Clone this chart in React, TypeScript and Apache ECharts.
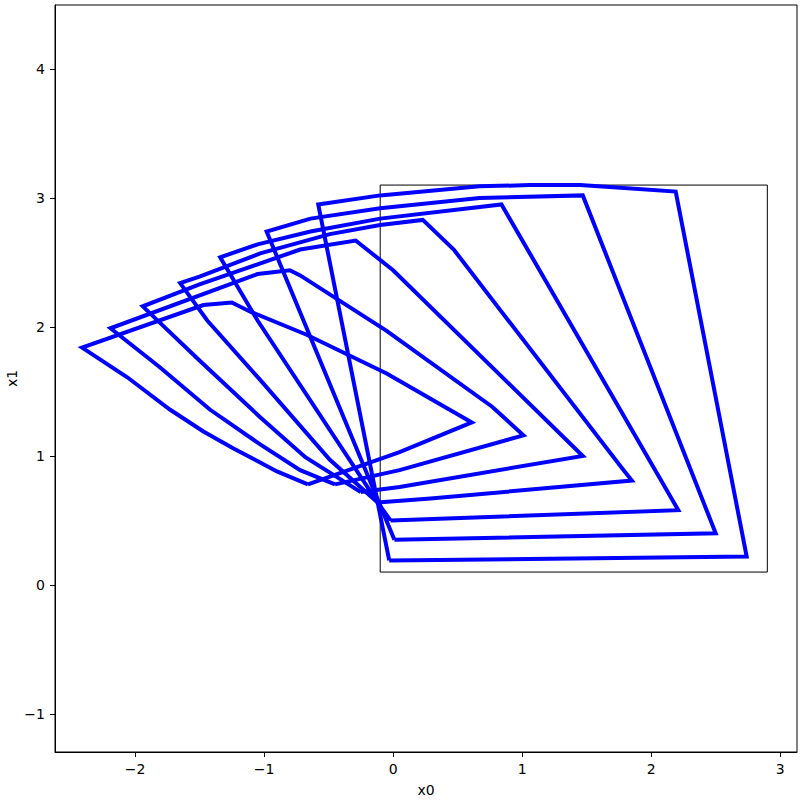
import React, { useEffect, useRef } from "react";
import * as echarts from "echarts";

// Axis tick values
const xTicks = [-2, -1, 0, 1, 2, 3];
const yTicks = [-1, 0, 1, 2, 3, 4];

// Axis extents
const xRange = [-2.62, 3.13];
const yRange = [-1.295, 4.496];

// Initial box corners
const boxCorners: [number, number][] = [
  [-0.1, 0.1],
  [2.9, 0.1],
  [2.9, 3.1],
  [-0.1, 3.1],
];

// Reachable set polygons (x0, x1), one per step
const poly1: [number, number][] = [
  [-0.03, 0.19], [2.74, 0.22], [2.19, 3.05], [1.45, 3.1], [1.06, 3.1],
  [0.67, 3.09], [-0.1, 3.02], [-0.58, 2.95],
];
const poly2: [number, number][] = [
  [0.01, 0.35], [2.5, 0.4], [1.47, 3.02], [0.67, 3.0], [-0.1, 2.92],
  [-0.64, 2.84], [-0.98, 2.74],
];
const poly3: [number, number][] = [
  [-0.02, 0.5], [2.21, 0.58], [0.84, 2.95], [-0.1, 2.84], [-0.64, 2.74],
  [-1.05, 2.64], [-1.34, 2.54], [-1.05, 2.05], [-0.12, 0.64],
];
const poly4: [number, number][] = [
  [-0.12, 0.64], [0.29, 0.67], [1.85, 0.81], [1.77, 0.91], [0.47, 2.6],
  [0.23, 2.83], [-0.1, 2.79], [-0.49, 2.72], [-1.03, 2.57], [-1.5, 2.39],
  [-1.65, 2.34], [-1.44, 2.05], [-1.03, 1.59], [-0.49, 0.97],
];
const poly5: [number, number][] = [
  [-0.25, 0.72], [0.05, 0.76], [1.47, 1.0], [0.0, 2.44], [-0.29, 2.67],
  [-0.72, 2.6], [-1.5, 2.33], [-1.94, 2.16], [-1.5, 1.74], [-1.03, 1.3],
  [-0.68, 0.99],
];
const poly6: [number, number][] = [
  [-0.45, 0.78], [0.05, 0.89], [1.01, 1.16], [0.77, 1.38], [-0.05, 1.97],
  [-0.72, 2.4], [-0.8, 2.44], [-1.05, 2.41], [-2.19, 1.99], [-1.81, 1.69],
  [-1.42, 1.36], [-1.03, 1.09], [-0.72, 0.89],
];
const poly7: [number, number][] = [
  [-0.66, 0.78], [0.05, 1.03], [0.61, 1.26], [-0.05, 1.64], [-0.67, 1.94],
  [-1.11, 2.12], [-1.25, 2.19], [-1.47, 2.17], [-2.41, 1.84], [-2.06, 1.61],
  [-1.73, 1.36], [-1.47, 1.19], [-1.24, 1.06], [-1.03, 0.95], [-0.9, 0.88],
];

const polygons = [poly1, poly2, poly3, poly4, poly5, poly6, poly7];

const closeRing = (pts: [number, number][]) => [...pts, pts[0]];

const fmt = (v: number) => (v < 0 ? "\u2212" + Math.abs(v) : String(v));

const FONT = "DejaVu Sans";

export default function App() {
  const ref = useRef<HTMLDivElement>(null);
  useEffect(() => {
    if (!ref.current) return;
    const chart = echarts.init(ref.current, undefined, { renderer: "svg" });
    const option: any = {
      animation: false,
      backgroundColor: "#ffffff",
      grid: {
        left: 55,
        top: 5,
        width: 742,
        height: 747,
        containLabel: false,
        outerBoundsMode: "none",
        show: true,
        borderColor: "#000",
        borderWidth: 1,
        backgroundColor: "transparent",
      },
      xAxis: {
        type: "value",
        min: xRange[0],
        max: xRange[1],
        name: "x0",
        nameLocation: "middle",
        nameGap: 31,
        nameTextStyle: { fontFamily: FONT, fontSize: 14, color: "#000" },
        axisLine: { show: true, onZero: false, lineStyle: { color: "#000", width: 1 } },
        axisTick: { show: true, inside: false, length: 5, customValues: xTicks, lineStyle: { color: "#000" } },
        axisLabel: {
          customValues: xTicks,
          formatter: fmt,
          fontFamily: FONT,
          fontSize: 14,
          color: "#000",
          margin: 10,
        },
        splitLine: { show: false },
      },
      yAxis: {
        type: "value",
        min: yRange[0],
        max: yRange[1],
        name: "x1",
        nameLocation: "middle",
        nameRotate: 90,
        nameGap: 36,
        nameMoveOverlap: false,
        nameTextStyle: { fontFamily: FONT, fontSize: 14, color: "#000" },
        axisLine: { show: true, onZero: false, lineStyle: { color: "#000", width: 1 } },
        axisTick: { show: true, inside: false, length: 5, customValues: yTicks, lineStyle: { color: "#000" } },
        axisLabel: {
          customValues: yTicks,
          formatter: fmt,
          fontFamily: FONT,
          fontSize: 14,
          color: "#000",
          margin: 10,
        },
        splitLine: { show: false },
      },
      series: [
        {
          type: "line",
          data: closeRing(boxCorners),
          showSymbol: false,
          symbol: "none",
          lineStyle: { color: "#000", width: 1 },
          z: 1,
          silent: true,
        },
        ...polygons.map((p) => ({
          type: "line",
          data: closeRing(p),
          showSymbol: false,
          symbol: "none",
          lineStyle: { color: "#0000ff", width: 4, join: "miter" },
          z: 2,
          silent: true,
        })),
      ],
    };
    chart.setOption(option);
    return () => chart.dispose();
  }, []);
  return (
    <div
      ref={ref}
      style={{ position: "fixed", left: 0, top: 0, width: 800, height: 800 }}
    />
  );
}
